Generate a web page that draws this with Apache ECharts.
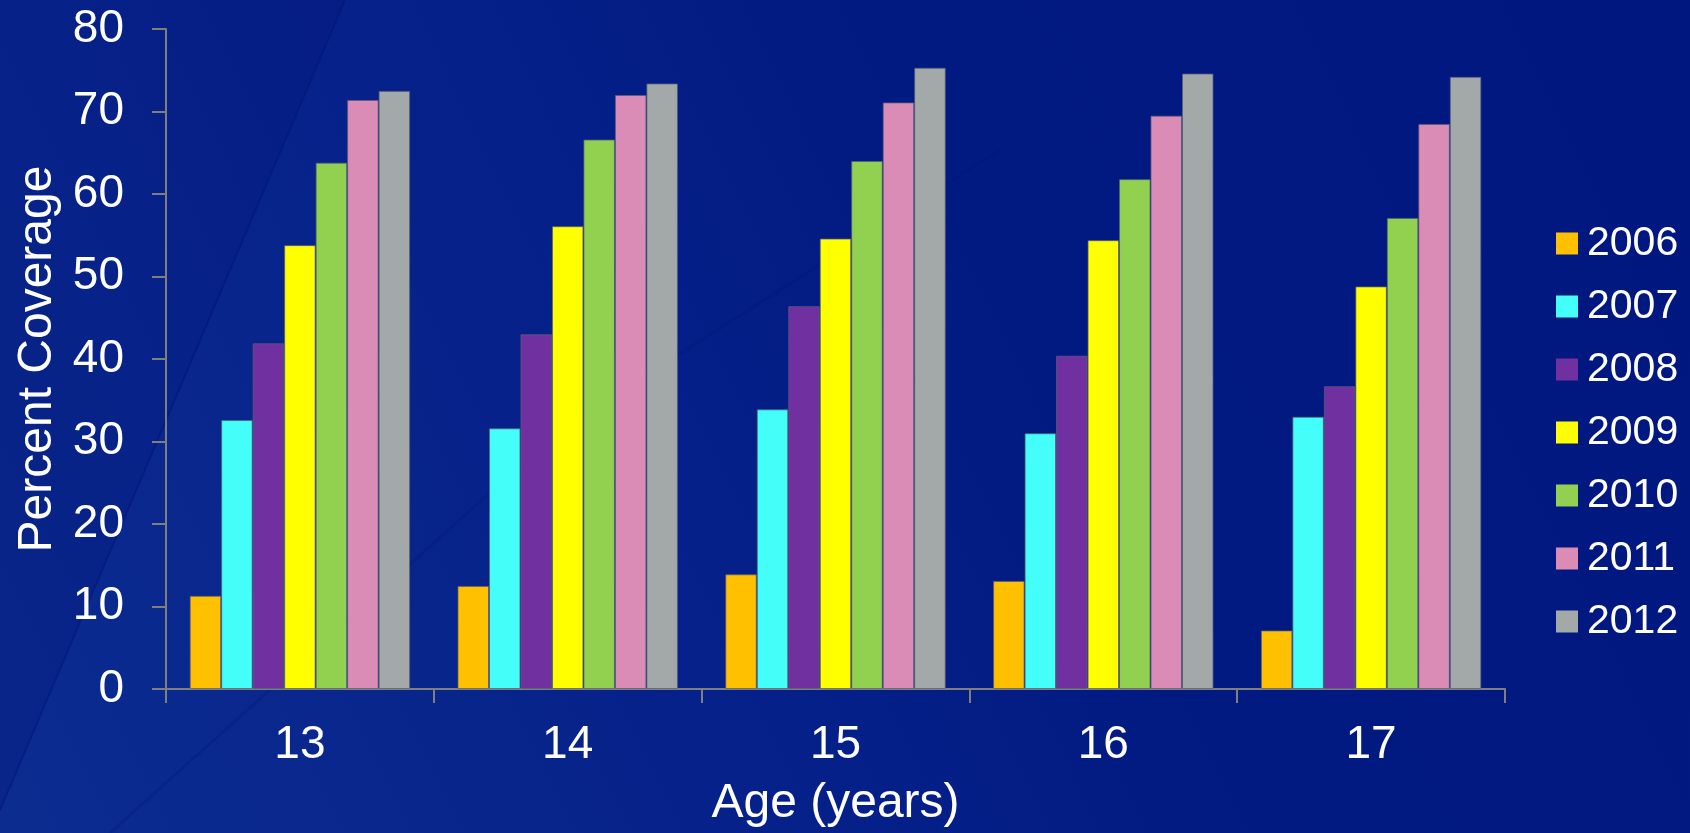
<!DOCTYPE html>
<html>
<head>
<meta charset="utf-8">
<title>Percent Coverage by Age</title>
<script src="https://cdn.jsdelivr.net/npm/echarts@6/dist/echarts.min.js"></script>
<style>
  html, body { margin: 0; padding: 0; background: #021a84; }
  #chart { width: 1690px; height: 833px; }
</style>
</head>
<body>
<div id="chart"></div>
<script>
// Ages on the x axis
const ages = ['13', '14', '15', '16', '17'];

// Coverage (%) per survey year, one value per age
const y2006 = [11.3, 12.5, 13.9, 13.1, 7.1];
const y2007 = [32.6, 31.6, 33.9, 31.0, 33.0];
const y2008 = [41.9, 43.0, 46.4, 40.4, 36.7];
const y2009 = [53.8, 56.1, 54.6, 54.4, 48.8];
const y2010 = [63.8, 66.6, 64.0, 61.8, 57.1];
const y2011 = [71.4, 72.0, 71.1, 69.5, 68.5];
const y2012 = [72.5, 73.4, 75.3, 74.6, 74.2];

const years = ['2006', '2007', '2008', '2009', '2010', '2011', '2012'];
const yearValues = [y2006, y2007, y2008, y2009, y2010, y2011, y2012];
const yearColors = ['#FFC000', '#44FFF9', '#7030A0', '#FFFF00', '#92D050', '#DA8CB6', '#A3A9A9'];

const FONT = '"Liberation Sans", Arial, sans-serif';
const AXIS_GREY = '#7F7F7F';

const chart = echarts.init(document.getElementById('chart'), null, { renderer: 'canvas' });

const series = years.map((yr, i) => ({
  name: yr,
  type: 'bar',
  data: yearValues[i],
  barGap: '0%',
  barCategoryGap: '17.7%',
  itemStyle: {
    color: yearColors[i],
    borderColor: 'rgba(90, 95, 120, 0.75)',
    borderWidth: 1
  },
  emphasis: { disabled: true }
}));

chart.setOption({
  animation: false,
  backgroundColor: {
    type: 'linear', x: 0, y: 1, x2: 1, y2: 0,
    colorStops: [
      { offset: 0, color: '#0c2c90' },
      { offset: 0.35, color: '#06228a' },
      { offset: 0.6, color: '#011a82' },
      { offset: 1, color: '#00177f' }
    ]
  },
  // faint diagonal sheen across the slide background
  graphic: [
    {
      type: 'polygon',
      silent: true,
      z: -10,
      shape: { points: [[0, 0], [345, 0], [0, 810]] },
      style: { fill: 'rgba(0, 10, 110, 0.15)' }
    },
    {
      type: 'polyline',
      silent: true,
      z: -9,
      shape: { points: [[345, 0], [0, 810]] },
      style: { stroke: 'rgba(0, 20, 120, 0.45)', lineWidth: 2, fill: null }
    },
    {
      type: 'polyline',
      silent: true,
      z: -9,
      shape: { points: [[110, 833], [560, 430], [1000, 150]] },
      style: { stroke: 'rgba(0, 18, 115, 0.25)', lineWidth: 3, fill: null }
    }
  ],
  grid: { left: 166, right: 185, top: 29, bottom: 143, containLabel: false },
  legend: {
    orient: 'vertical',
    left: 1551,
    top: 218,
    itemWidth: 22,
    itemHeight: 22,
    itemGap: 22,
    icon: 'rect',
    selectedMode: false,
    data: years,
    itemStyle: { borderWidth: 0 },
    textStyle: {
      color: '#ffffff',
      fontFamily: FONT,
      fontSize: 41,
      lineHeight: 41,
      padding: [0, 0, 0, 4]
    }
  },
  xAxis: {
    type: 'category',
    data: ages,
    boundaryGap: true,
    name: 'Age (years)',
    nameLocation: 'middle',
    nameGap: 91,
    nameTextStyle: { color: '#ffffff', fontFamily: FONT, fontSize: 48 },
    axisLine: { lineStyle: { color: AXIS_GREY, width: 2 } },
    axisTick: { show: true, alignWithLabel: false, length: 14, lineStyle: { color: AXIS_GREY, width: 2 } },
    axisLabel: { color: '#ffffff', fontFamily: FONT, fontSize: 46, margin: 33 },
    splitLine: { show: false }
  },
  yAxis: {
    type: 'value',
    min: 0,
    max: 80,
    interval: 10,
    name: 'Percent Coverage',
    nameLocation: 'middle',
    nameGap: 100,
    nameRotate: 90,
    nameTextStyle: { color: '#ffffff', fontFamily: FONT, fontSize: 48 },
    axisLine: { show: true, lineStyle: { color: AXIS_GREY, width: 2 } },
    axisTick: { show: true, inside: false, length: 14, lineStyle: { color: AXIS_GREY, width: 2 } },
    axisLabel: { color: '#ffffff', fontFamily: FONT, fontSize: 46, margin: 42 },
    splitLine: { show: false }
  },
  series: series
});
</script>
</body>
</html>
